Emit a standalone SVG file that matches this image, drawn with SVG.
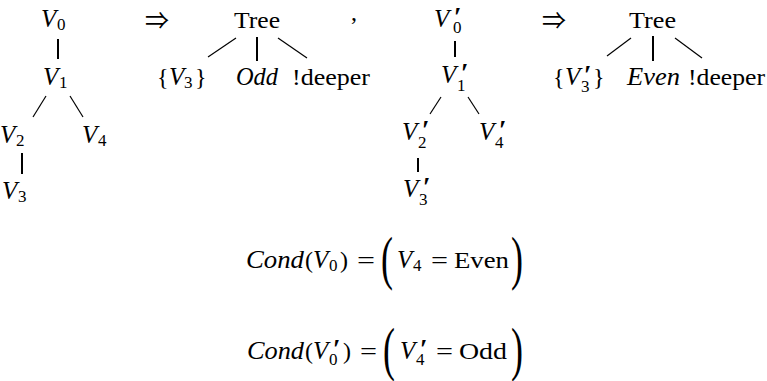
<svg xmlns="http://www.w3.org/2000/svg" width="767" height="381" viewBox="0 0 767 381">
<style>
text{font-family:"Liberation Serif","DejaVu Serif",serif;font-size:24px;fill:#000}
.i{font-style:italic;font-size:25px}
.s{font-size:17px;font-style:normal}
.pr{font-family:"Liberation Serif","DejaVu Serif",serif;font-size:27px;font-style:normal;font-weight:bold}
.ar{font-family:"Noto Sans CJK JP","DejaVu Sans",sans-serif;font-size:24px}
.big{font-size:60px}
.v{stroke:#000;stroke-width:2;fill:none}
.d{stroke:#000;stroke-width:1.2;fill:none}
</style>
<rect width="767" height="381" fill="#fff"/>
<g id="connectors">
<line class="v" x1="58" y1="39" x2="58" y2="59"/>
<line class="d" x1="46" y1="96" x2="33" y2="117"/>
<line class="d" x1="70" y1="96" x2="83" y2="117"/>
<line class="v" x1="22" y1="153" x2="22" y2="174"/>
<line class="d" x1="236" y1="38" x2="208" y2="57"/>
<line class="v" x1="257" y1="37" x2="257" y2="61"/>
<line class="d" x1="278" y1="38" x2="307" y2="58"/>
<line class="v" x1="455" y1="41" x2="455" y2="57"/>
<line class="d" x1="441" y1="97" x2="430" y2="114"/>
<line class="d" x1="468" y1="97" x2="479" y2="114"/>
<line class="v" x1="418" y1="158" x2="418" y2="172"/>
<line class="d" x1="631" y1="38" x2="607" y2="56"/>
<line class="v" x1="653" y1="36" x2="653" y2="61"/>
<line class="d" x1="675" y1="38" x2="702" y2="58"/>
</g>
<g id="V0"><text x="41" y="27" class="i">V<tspan class="s" x="57" y="30">0</tspan></text></g>
<g id="V1"><text x="43" y="85" class="i">V<tspan class="s" x="59" y="88">1</tspan></text></g>
<g id="V2"><text x="0" y="143" class="i">V<tspan class="s" x="16" y="146">2</tspan></text></g>
<g id="V4"><text x="82" y="143" class="i">V<tspan class="s" x="98" y="146">4</tspan></text></g>
<g id="V3"><text x="2" y="199" class="i">V<tspan class="s" x="18" y="202">3</tspan></text></g>
<g id="arrow1"><text x="145" y="29" class="ar">⇒</text></g>
<g id="tree1"><text x="234" y="28" textLength="46" lengthAdjust="spacingAndGlyphs">Tree</text></g>
<g id="comma"><text x="351" y="20">,</text></g>
<g id="set1"><text x="157" y="85">{<tspan class="i" x="169">V</tspan><tspan class="s" x="184" y="88">3</tspan><tspan x="195" y="85">}</tspan></text></g>
<g id="odd1"><text x="236" y="85" class="i" textLength="42" lengthAdjust="spacingAndGlyphs">Odd</text></g>
<g id="deeper1"><text x="292" y="85" textLength="78" lengthAdjust="spacingAndGlyphs">!deeper</text></g>
<g id="W0"><text x="434" y="27" class="i">V<tspan class="pr" x="454" y="26">′</tspan><tspan class="s" x="453" y="33">0</tspan></text></g>
<g id="W1"><text x="441" y="83" class="i">V<tspan class="pr" x="461" y="82">′</tspan><tspan class="s" x="457" y="91">1</tspan></text></g>
<g id="W2"><text x="402" y="140" class="i">V<tspan class="pr" x="422" y="139">′</tspan><tspan class="s" x="418" y="148">2</tspan></text></g>
<g id="W4"><text x="479" y="140" class="i">V<tspan class="pr" x="499" y="139">′</tspan><tspan class="s" x="495" y="148">4</tspan></text></g>
<g id="W3"><text x="403" y="197" class="i">V<tspan class="pr" x="423" y="196">′</tspan><tspan class="s" x="419" y="205">3</tspan></text></g>
<g id="arrow2"><text x="542" y="29" class="ar">⇒</text></g>
<g id="tree2"><text x="629" y="28" textLength="47" lengthAdjust="spacingAndGlyphs">Tree</text></g>
<g id="set2"><text x="553" y="85">{<tspan class="i" x="565">V</tspan><tspan class="pr" x="584" y="84">′</tspan><tspan class="s" x="581" y="92">3</tspan><tspan x="593" y="85">}</tspan></text></g>
<g id="even1"><text x="627" y="85" class="i" textLength="53" lengthAdjust="spacingAndGlyphs">Even</text></g>
<g id="deeper2"><text x="688" y="85" textLength="77" lengthAdjust="spacingAndGlyphs">!deeper</text></g>
<g id="cond1">
<text x="246" y="268" class="i" textLength="58" lengthAdjust="spacingAndGlyphs">Cond</text>
<text x="305" y="268">(<tspan class="i" x="313">V</tspan><tspan class="s" x="329" y="271">0</tspan><tspan x="340" y="268">)</tspan></text>
<text x="357" y="268" textLength="18" lengthAdjust="spacingAndGlyphs">=</text>
<text class="big" transform="translate(381,277.5) scale(0.6,1)">(</text>
<text x="397" y="268" class="i">V<tspan class="s" x="413" y="271">4</tspan></text>
<text x="431" y="268" textLength="17" lengthAdjust="spacingAndGlyphs">=</text>
<text x="454" y="268" textLength="55" lengthAdjust="spacingAndGlyphs">Even</text>
<text class="big" transform="translate(511,277.5) scale(0.6,1)">)</text>
</g>
<g id="cond2">
<text x="247" y="359" class="i" textLength="57" lengthAdjust="spacingAndGlyphs">Cond</text>
<text x="305" y="359">(<tspan class="i" x="313">V</tspan><tspan class="pr" x="333" y="358">′</tspan><tspan class="s" x="329" y="365">0</tspan><tspan x="343" y="359">)</tspan></text>
<text x="360" y="359" textLength="17" lengthAdjust="spacingAndGlyphs">=</text>
<text class="big" transform="translate(383,369) scale(0.6,1)">(</text>
<text x="400" y="359" class="i">V<tspan class="pr" x="420" y="358">′</tspan><tspan class="s" x="416" y="365">4</tspan></text>
<text x="436" y="359" textLength="17" lengthAdjust="spacingAndGlyphs">=</text>
<text x="459" y="359" textLength="48" lengthAdjust="spacingAndGlyphs">Odd</text>
<text class="big" transform="translate(511,369) scale(0.6,1)">)</text>
</g>
</svg>
